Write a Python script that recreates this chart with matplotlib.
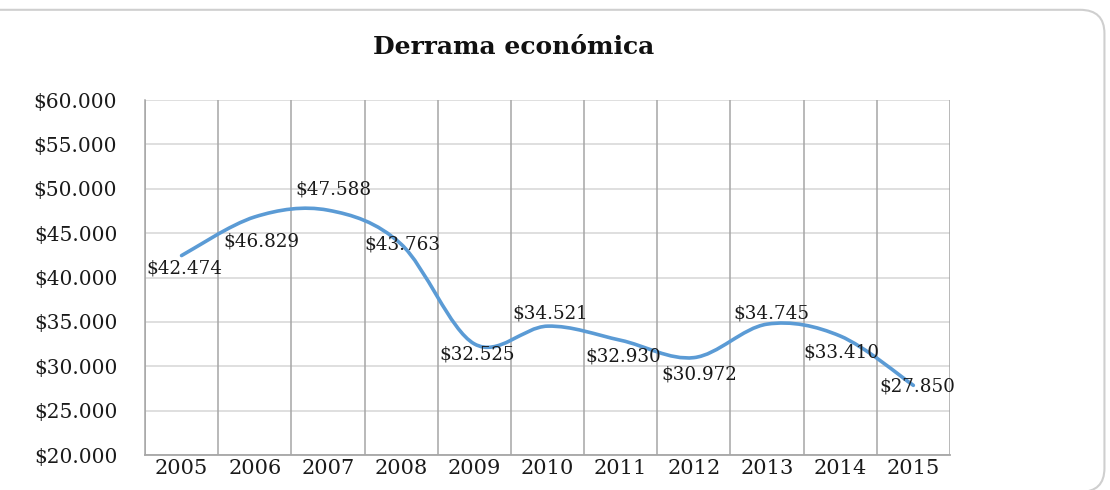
import numpy as np
import matplotlib.pyplot as plt
from matplotlib.path import Path
from matplotlib.patches import PathPatch, FancyBboxPatch

years = ["2005", "2006", "2007", "2008", "2009", "2010",
         "2011", "2012", "2013", "2014", "2015"]
derrama = [42474, 46829, 47588, 43763, 32525, 34521,
           32930, 30972, 34745, 33410, 27850]
etiquetas = ["$42.474", "$46.829", "$47.588", "$43.763", "$32.525", "$34.521",
             "$32.930", "$30.972", "$34.745", "$33.410", "$27.850"]

# label offsets in points (dx, dy), roughly where Excel put them
offsets = [(2, -9), (5, -18), (4, 15), (1, 0), (2, -8), (2, 9),
           (2, -12), (4, -12), (3, 8), (1, -12), (3, -1)]

serif = "DejaVu Serif"

fig = plt.figure(figsize=(11.1, 4.9), dpi=100)

# outer rounded frame like the chart area border (left/bottom run off the picture)
frame = FancyBboxPatch((-0.06, -0.004), 1.055, 0.984,
                       boxstyle="round,pad=0,rounding_size=0.022",
                       transform=fig.transFigure, fill=False,
                       edgecolor="#cfcfcf", linewidth=1.5, mutation_aspect=2.2)
fig.patches.append(frame)

ax = fig.add_axes([0.1306, 0.0714, 0.7252, 0.7245])

x = np.arange(len(years))
y = np.array(derrama, dtype=float)

# smoothed line (Catmull-Rom as Bezier segments)
pts = np.column_stack([x, y])
verts = [pts[0]]
codes = [Path.MOVETO]
n = len(pts)
for i in range(n - 1):
    p0 = pts[i - 1] if i > 0 else pts[i]
    p1 = pts[i]
    p2 = pts[i + 1]
    p3 = pts[i + 2] if i + 2 < n else pts[i + 1]
    c1 = p1 + (p2 - p0) / 6.0
    c2 = p2 - (p3 - p1) / 6.0
    verts += [c1, c2, p2]
    codes += [Path.CURVE4] * 3
ax.add_patch(PathPatch(Path(verts, codes), fill=False, edgecolor="#5B9BD5",
                       linewidth=2.6, capstyle="round", zorder=3))

for xi, yi, lab, (dx, dy) in zip(x, y, etiquetas, offsets):
    ax.annotate(lab, (xi, yi), xytext=(dx, dy), textcoords="offset points",
                ha="center", va="center", fontsize=13.2, family=serif,
                color="#1a1a1a", zorder=4)

ax.set_xlim(-0.5, len(years) - 0.5)
ax.set_ylim(20000, 60000)
ax.set_yticks(np.arange(20000, 60001, 5000))
ax.set_yticklabels(["$" + f"{v:,}".replace(",", ".") for v in range(20000, 60001, 5000)],
                   family=serif, fontsize=14.5, color="#1a1a1a")
ax.set_xticks(x)
ax.set_xticklabels(years, family=serif, fontsize=15, color="#1a1a1a")
ax.tick_params(axis="both", length=0)
ax.tick_params(axis="y", pad=20)
ax.tick_params(axis="x", pad=3)

# horizontal gridlines
ax.grid(axis="y", color="#d9d9d9", linewidth=1.2)
# vertical gridlines at category boundaries
for b in np.arange(-0.5, len(years), 1.0):
    ax.axvline(b, color="#a6a6a6", linewidth=1.1, zorder=1)
ax.set_axisbelow(True)

for side in ["top", "right"]:
    ax.spines[side].set_visible(False)
ax.spines["left"].set_color("#a6a6a6")
ax.spines["bottom"].set_color("#a6a6a6")
ax.spines["left"].set_linewidth(1.1)
ax.spines["bottom"].set_linewidth(1.3)

fig.text(0.463, 0.905, "Derrama económica", ha="center", va="center",
         family=serif, fontweight="bold", fontsize=18, color="#111111")

fig.savefig("out.png", dpi=100)
